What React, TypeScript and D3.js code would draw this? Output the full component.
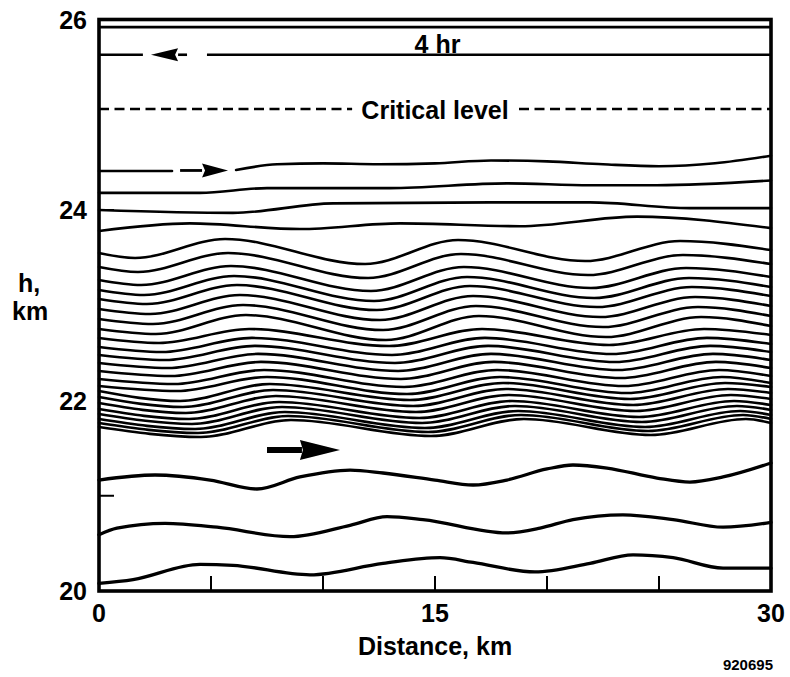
import React from "react";
import * as d3 from "d3";

type Pt = [number, number];

// Axis setup (distance in km, height in km)
const xDomain: [number, number] = [0, 30];
const yDomain: [number, number] = [20, 26];
const xTickLabels = [0, 15, 30];
const xInnerTicks = [5, 10, 15, 20, 25];
const yTickLabels = [20, 22, 24, 26];
const yInnerTicks = [21, 24];

// Flat levels near the top
const levelTop = 25.92;
const levelFourHour = 25.63;
const criticalLevel = 25.06;
const criticalGap: [number, number] = [11.3, 18.75];

// Upper isentropes
const lineE1: Pt[] = [[0, 24.41], [3.26, 24.41]];
const lineE2: Pt[] = [[6.12, 24.42], [7.95, 24.48], [10, 24.49], [12.5, 24.48], [15, 24.49], [17.5, 24.52], [20, 24.51], [22.5, 24.48], [25, 24.46], [27.5, 24.49], [30, 24.57]];
const lineA: Pt[] = [[0, 24.18], [4.51, 24.18], [7.5, 24.23], [12.99, 24.23], [18.21, 24.28], [21.92, 24.26], [24.91, 24.26], [30, 24.31]];
const lineB: Pt[] = [[0, 24.0], [5.98, 23.97], [10.45, 24.07], [17.46, 24.08], [21.92, 24.08], [26.38, 24.02], [30, 24.02]];
const lineC: Pt[] = [[0, 23.78], [4.06, 23.86], [8.97, 23.8], [13.44, 23.86], [18.79, 23.83], [24.02, 23.93], [30, 23.81]];

// Dense band: turning points of each isentrope, top to bottom
const denseX: number[][] = [
  [0, 1.61, 5.63, 11.88, 16.03, 21.7, 25.94, 30],
  [0, 1.74, 5.76, 12.01, 16.16, 21.83, 26.07, 30],
  [0, 1.88, 5.89, 12.14, 16.29, 21.96, 26.21, 30],
  [0, 2.01, 6.03, 12.28, 16.43, 22.1, 26.34, 30],
  [0, 2.14, 6.16, 12.41, 16.56, 22.23, 26.47, 30],
  [0, 2.28, 6.29, 12.54, 16.7, 22.37, 26.61, 30],
  [0, 2.41, 6.43, 12.68, 16.83, 22.5, 26.74, 30],
  [0, 2.54, 6.56, 12.81, 16.96, 22.63, 26.88, 30],
  [0, 2.68, 6.7, 12.95, 17.1, 22.77, 27.01, 30],
  [0, 2.81, 6.83, 13.08, 17.23, 22.9, 27.14, 30],
  [0, 2.95, 6.96, 13.21, 17.37, 23.04, 27.28, 30],
  [0, 3.08, 7.1, 13.35, 17.5, 23.17, 27.41, 30],
  [0, 3.21, 7.23, 13.48, 17.63, 23.3, 27.54, 30],
  [0, 3.35, 7.37, 13.62, 17.77, 23.44, 27.68, 30],
  [0, 3.48, 7.5, 13.75, 17.9, 23.57, 27.81, 30],
  [0, 3.62, 7.63, 13.88, 18.04, 23.71, 27.95, 30],
  [0, 3.75, 7.77, 14.02, 18.17, 23.84, 28.08, 30],
  [0, 3.88, 7.9, 14.15, 18.3, 23.97, 28.21, 30],
  [0, 4.02, 8.04, 14.29, 18.44, 24.11, 28.35, 30],
  [0, 4.15, 8.17, 14.42, 18.57, 24.24, 28.48, 30],
  [0, 4.29, 8.3, 14.55, 18.71, 24.38, 28.62, 30],
  [0, 4.42, 8.44, 14.69, 18.84, 24.51, 28.75, 30],
  [0, 4.55, 8.57, 14.82, 18.97, 24.64, 28.88, 30],
];
const denseH: number[][] = [
  [23.549, 23.496, 23.695, 23.433, 23.685, 23.464, 23.674, 23.58],
  [23.402, 23.349, 23.548, 23.286, 23.538, 23.317, 23.527, 23.433],
  [23.266, 23.213, 23.412, 23.15, 23.402, 23.181, 23.391, 23.297],
  [23.161, 23.108, 23.307, 23.045, 23.297, 23.076, 23.286, 23.192],
  [23.066, 23.013, 23.212, 22.95, 23.202, 22.981, 23.191, 23.097],
  [22.961, 22.908, 23.107, 22.845, 23.097, 22.876, 23.086, 22.992],
  [22.856, 22.803, 23.002, 22.74, 22.992, 22.771, 22.981, 22.887],
  [22.751, 22.698, 22.897, 22.635, 22.887, 22.666, 22.876, 22.782],
  [22.656, 22.604, 22.751, 22.572, 22.751, 22.583, 22.751, 22.688],
  [22.562, 22.509, 22.657, 22.478, 22.657, 22.488, 22.657, 22.593],
  [22.478, 22.425, 22.573, 22.394, 22.573, 22.404, 22.573, 22.509],
  [22.394, 22.341, 22.489, 22.31, 22.489, 22.32, 22.489, 22.425],
  [22.31, 22.257, 22.405, 22.226, 22.405, 22.236, 22.405, 22.341],
  [22.226, 22.173, 22.321, 22.142, 22.321, 22.152, 22.321, 22.257],
  [22.152, 22.099, 22.247, 22.068, 22.247, 22.078, 22.247, 22.183],
  [22.1, 21.995, 22.173, 22.005, 22.184, 22.016, 22.184, 22.142],
  [22.037, 21.932, 22.11, 21.942, 22.121, 21.953, 22.121, 22.079],
  [21.974, 21.869, 22.047, 21.879, 22.058, 21.89, 22.058, 22.016],
  [21.911, 21.806, 21.984, 21.816, 21.995, 21.827, 21.995, 21.953],
  [21.859, 21.754, 21.932, 21.764, 21.943, 21.775, 21.943, 21.901],
  [21.806, 21.701, 21.879, 21.711, 21.89, 21.722, 21.89, 21.848],
  [21.764, 21.659, 21.837, 21.669, 21.848, 21.68, 21.848, 21.806],
  [21.722, 21.617, 21.795, 21.627, 21.806, 21.638, 21.806, 21.764],
];

// Lowest isentropes
const lineL1: Pt[] = [[0, 21.165], [2.5, 21.218], [4.96, 21.165], [7.05, 21.071], [8.97, 21.197], [11.21, 21.27], [12.68, 21.239], [15, 21.165], [16.7, 21.113], [18.21, 21.165], [20, 21.281], [21.16, 21.323], [22.68, 21.291], [24.91, 21.186], [26.38, 21.144], [27.86, 21.197], [30, 21.344]];
const lineL2: Pt[] = [[0, 20.59], [0.8, 20.66], [2.95, 20.71], [5.27, 20.67], [8.53, 20.57], [11.21, 20.69], [12.86, 20.78], [14.46, 20.75], [18.21, 20.61], [19.69, 20.66], [21.16, 20.75], [23.39, 20.8], [25.63, 20.75], [27.86, 20.67], [30, 20.72]];
const lineL3: Pt[] = [[0, 20.08], [1.52, 20.12], [4.51, 20.28], [5.98, 20.27], [9.42, 20.17], [12.68, 20.29], [15.22, 20.35], [16.7, 20.3], [19.46, 20.2], [21.92, 20.29], [23.84, 20.38], [25.63, 20.35], [27.86, 20.24], [30, 20.24]];

// Flow arrows (positions in km)
const leftArrow = { gapFrom: 1.96, tip: 2.32, base: 3.53, tail: 3.93, gapTo: 4.82, h: levelFourHour };
const rightArrowUpper = { tail: 3.62, base: 4.6, tip: 5.76, h: 24.415 };
const rightArrowLower = { tail: 7.5, base: 8.97, tip: 10.76, h: 21.48 };

const W = 790;
const H = 677;
const font = "'Liberation Sans', Arial, Helvetica, sans-serif";

export default function App() {
  const x = d3.scaleLinear().domain(xDomain).range([99, 771]);
  const y = d3.scaleLinear().domain(yDomain).range([591, 19.5]);
  const line = d3
    .line<Pt>()
    .x((d) => x(d[0]))
    .y((d) => y(d[1]))
    .curve(d3.curveMonotoneX);

  const dense: Pt[][] = denseH.map((hs, j) => hs.map((h, i) => [denseX[j][i], h] as Pt));
  const upper: Pt[][] = [lineE1, lineE2, lineA, lineB, lineC];
  const lowest: Pt[][] = [lineL1, lineL2, lineL3];

  const headPath = (tipX: number, baseX: number, cy: number, half: number) => {
    const dir = Math.sign(tipX - baseX);
    const notch = baseX + dir * 3;
    return `M${tipX},${cy} L${baseX},${cy - half} L${notch},${cy} L${baseX},${cy + half} Z`;
  };

  const labelStyle = { fontFamily: font, fontWeight: 700, fontSize: 25, fill: "#000" } as const;

  return (
    <svg
      width={W}
      height={H}
      viewBox={`0 0 ${W} ${H}`}
      style={{ position: "absolute", left: 0, top: 0, background: "#fff" }}
    >
      <rect x={0} y={0} width={W} height={H} fill="#fff" />

      {/* flat levels at the top */}
      <line x1={x(0)} x2={x(30)} y1={y(levelTop)} y2={y(levelTop)} stroke="#000" strokeWidth={2.6} />
      <line x1={x(0)} x2={x(leftArrow.gapFrom)} y1={y(levelFourHour)} y2={y(levelFourHour)} stroke="#000" strokeWidth={2.6} />
      <line x1={x(leftArrow.base)} x2={x(leftArrow.tail)} y1={y(levelFourHour)} y2={y(levelFourHour)} stroke="#000" strokeWidth={2.6} />
      <path d={headPath(x(leftArrow.tip), x(leftArrow.base), y(levelFourHour), 6.5)} fill="#000" />
      <line x1={x(leftArrow.gapTo)} x2={x(30)} y1={y(levelFourHour)} y2={y(levelFourHour)} stroke="#000" strokeWidth={2.6} />
      <text x={437.5} y={y(levelFourHour) - 2} textAnchor="middle" style={labelStyle}>4 hr</text>

      {/* critical level */}
      <line x1={x(0)} x2={x(criticalGap[0])} y1={y(criticalLevel)} y2={y(criticalLevel)} stroke="#000" strokeWidth={2.5} strokeDasharray="10 5.5" />
      <line x1={x(criticalGap[1])} x2={x(30)} y1={y(criticalLevel)} y2={y(criticalLevel)} stroke="#000" strokeWidth={2.5} strokeDasharray="10 5.5" />
      <text x={x(15)} y={y(criticalLevel) + 10} textAnchor="middle" style={labelStyle}>Critical level</text>

      {/* isentropes */}
      <g fill="none" stroke="#000" strokeLinejoin="round" strokeLinecap="round">
        {upper.map((d, i) => (
          <path key={`u${i}`} d={line(d) ?? ""} strokeWidth={2.6} />
        ))}
        {dense.map((d, i) => (
          <path key={`d${i}`} d={line(d) ?? ""} strokeWidth={2.6} />
        ))}
        {lowest.map((d, i) => (
          <path key={`l${i}`} d={line(d) ?? ""} strokeWidth={3.3} />
        ))}
      </g>

      {/* flow direction arrows */}
      <line x1={x(rightArrowUpper.tail)} x2={x(rightArrowUpper.base)} y1={y(rightArrowUpper.h)} y2={y(rightArrowUpper.h)} stroke="#000" strokeWidth={2.8} />
      <path d={headPath(x(rightArrowUpper.tip), x(rightArrowUpper.base), y(rightArrowUpper.h), 7)} fill="#000" />
      <line x1={x(rightArrowLower.tail)} x2={x(rightArrowLower.base) + 2} y1={y(rightArrowLower.h)} y2={y(rightArrowLower.h)} stroke="#000" strokeWidth={6} />
      <path d={headPath(x(rightArrowLower.tip), x(rightArrowLower.base), y(rightArrowLower.h), 10)} fill="#000" />

      {/* frame */}
      <rect x={x(0)} y={y(26)} width={x(30) - x(0)} height={y(20) - y(26)} fill="none" stroke="#000" strokeWidth={3.6} />

      {/* inner ticks */}
      {xInnerTicks.map((t) => (
        <line key={`xt${t}`} x1={x(t)} x2={x(t)} y1={y(20)} y2={y(20) - 15} stroke="#000" strokeWidth={2} />
      ))}
      {yInnerTicks.map((t) => (
        <line key={`yt${t}`} x1={x(0)} x2={x(0) + 15} y1={y(t)} y2={y(t)} stroke="#000" strokeWidth={2} />
      ))}

      {/* tick labels */}
      {xTickLabels.map((t) => (
        <text key={`xl${t}`} x={x(t)} y={622} textAnchor="middle" style={labelStyle}>{t}</text>
      ))}
      {yTickLabels.map((t) => (
        <text key={`yl${t}`} x={87} y={y(t) + 9} textAnchor="end" style={labelStyle}>{t}</text>
      ))}

      {/* axis titles */}
      <text x={x(15)} y={655} textAnchor="middle" style={labelStyle}>Distance, km</text>
      <text x={18} y={292} style={labelStyle}>h,</text>
      <text x={12} y={320} style={labelStyle}>km</text>
      <text x={773} y={670} textAnchor="end" style={{ fontFamily: font, fontWeight: 700, fontSize: 15 }}>920695</text>
    </svg>
  );
}
